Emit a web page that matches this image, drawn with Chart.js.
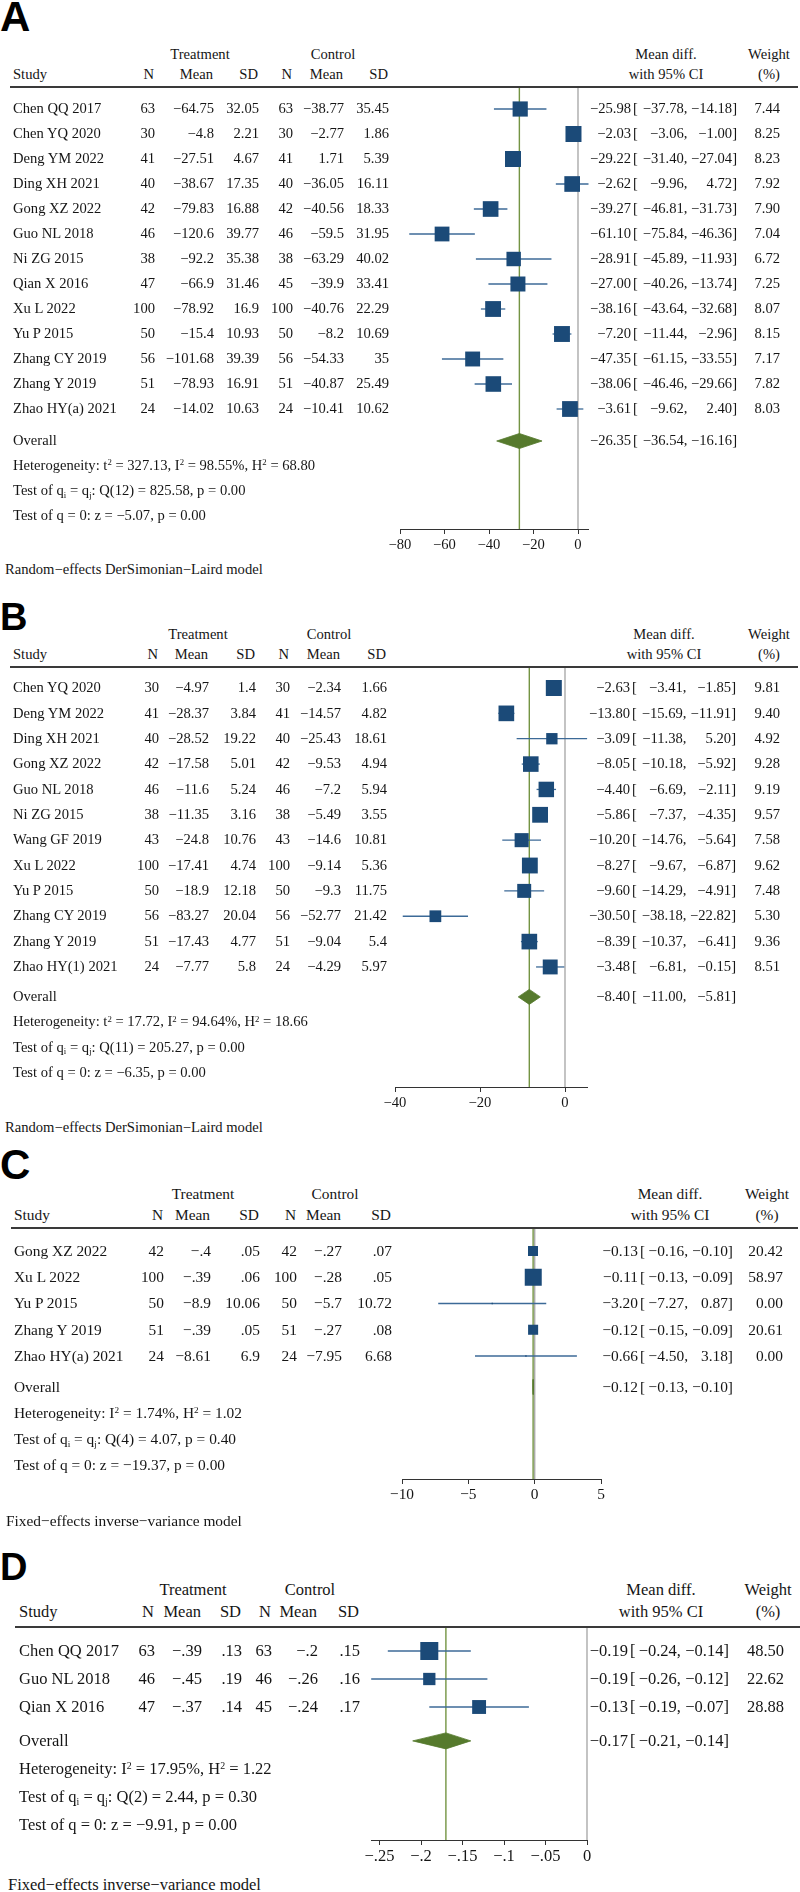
<!DOCTYPE html>
<html><head><meta charset="utf-8">
<script src="https://cdn.jsdelivr.net/npm/chart.js@4.4.1/dist/chart.umd.min.js"></script>
<style>
html,body{margin:0;padding:0;background:#fff;}
#root{position:relative;width:800px;height:1892px;overflow:hidden;background:#fff;}
.t{position:absolute;white-space:nowrap;font-family:'Liberation Serif','Times New Roman',serif;color:#151515;z-index:2;}
.t sup,.t sub{font-size:0.6em;position:relative;vertical-align:baseline;line-height:0;}
.t sup{top:-0.55em;} .t sub{top:0.3em;}
.lbl{position:absolute;left:0;font-family:'Liberation Sans',Arial,sans-serif;font-weight:bold;color:#000;z-index:2;}
.hl{position:absolute;height:2px;background:#3a3a3a;z-index:2;}
canvas{position:absolute;left:0;z-index:1;}
</style></head><body><div id="root"></div>
<script>
const MINUS = '\u2212';
// ---------------- Panel A ----------------
const studiesA = ['Chen QQ 2017','Chen YQ 2020','Deng YM 2022','Ding XH 2021','Gong XZ 2022','Guo NL 2018','Ni ZG 2015','Qian X 2016','Xu L 2022','Yu P 2015','Zhang CY 2019','Zhang Y 2019','Zhao HY(a) 2021'];
const nTA = [63,30,41,40,42,46,38,47,100,50,56,51,24];
const meanTA = [-64.75,-4.8,-27.51,-38.67,-79.83,-120.6,-92.2,-66.9,-78.92,-15.4,-101.68,-78.93,-14.02];
const sdTA = [32.05,2.21,4.67,17.35,16.88,39.77,35.38,31.46,16.9,10.93,39.39,16.91,10.63];
const nCA = [63,30,41,40,42,46,38,45,100,50,56,51,24];
const meanCA = [-38.77,-2.77,1.71,-36.05,-40.56,-59.5,-63.29,-39.9,-40.76,-8.2,-54.33,-40.87,-10.41];
const sdCA = [35.45,1.86,5.39,16.11,18.33,31.95,40.02,33.41,22.29,10.69,35,25.49,10.62];
const estA = [-25.98,-2.03,-29.22,-2.62,-39.27,-61.10,-28.91,-27.00,-38.16,-7.20,-47.35,-38.06,-3.61];
const loA = [-37.78,-3.06,-31.40,-9.96,-46.81,-75.84,-45.89,-40.26,-43.64,-11.44,-61.15,-46.46,-9.62];
const hiA = [-14.18,-1.00,-27.04,4.72,-31.73,-46.36,-11.93,-13.74,-32.68,-2.96,-33.55,-29.66,2.40];
const wA = [7.44,8.25,8.23,7.92,7.90,7.04,6.72,7.25,8.07,8.15,7.17,7.82,8.03];
const overallA = [-26.35,-36.54,-16.16];
const statsA = ['Heterogeneity: t<sup>2</sup> = 327.13, I<sup>2</sup> = 98.55%, H<sup>2</sup> = 68.80','Test of q<sub>i</sub> = q<sub>j</sub>: Q(12) = 825.58, p = 0.00','Test of q = 0: z = \u22125.07, p = 0.00'];
const modelA = 'Random\u2212effects DerSimonian\u2212Laird model';
const ticksA = [-80,-60,-40,-20,0];
const tickLabelsA = ['\u221280','\u221260','\u221240','\u221220','0'];

// ---------------- Panel B ----------------
const studiesB = ['Chen YQ 2020','Deng YM 2022','Ding XH 2021','Gong XZ 2022','Guo NL 2018','Ni ZG 2015','Wang GF 2019','Xu L 2022','Yu P 2015','Zhang CY 2019','Zhang Y 2019','Zhao HY(1) 2021'];
const nTB = [30,41,40,42,46,38,43,100,50,56,51,24];
const meanTB = [-4.97,-28.37,-28.52,-17.58,-11.6,-11.35,-24.8,-17.41,-18.9,-83.27,-17.43,-7.77];
const sdTB = [1.4,3.84,19.22,5.01,5.24,3.16,10.76,4.74,12.18,20.04,4.77,5.8];
const nCB = [30,41,40,42,46,38,43,100,50,56,51,24];
const meanCB = [-2.34,-14.57,-25.43,-9.53,-7.2,-5.49,-14.6,-9.14,-9.3,-52.77,-9.04,-4.29];
const sdCB = [1.66,4.82,18.61,4.94,5.94,3.55,10.81,5.36,11.75,21.42,5.4,5.97];
const estB = [-2.63,-13.80,-3.09,-8.05,-4.40,-5.86,-10.20,-8.27,-9.60,-30.50,-8.39,-3.48];
const loB = [-3.41,-15.69,-11.38,-10.18,-6.69,-7.37,-14.76,-9.67,-14.29,-38.18,-10.37,-6.81];
const hiB = [-1.85,-11.91,5.20,-5.92,-2.11,-4.35,-5.64,-6.87,-4.91,-22.82,-6.41,-0.15];
const wB = [9.81,9.40,4.92,9.28,9.19,9.57,7.58,9.62,7.48,5.30,9.36,8.51];
const overallB = [-8.40,-11.00,-5.81];
const statsB = ['Heterogeneity: t<sup>2</sup> = 17.72, I<sup>2</sup> = 94.64%, H<sup>2</sup> = 18.66','Test of q<sub>i</sub> = q<sub>j</sub>: Q(11) = 205.27, p = 0.00','Test of q = 0: z = \u22126.35, p = 0.00'];
const modelB = 'Random\u2212effects DerSimonian\u2212Laird model';
const ticksB = [-40,-20,0];
const tickLabelsB = ['\u221240','\u221220','0'];

// ---------------- Panel C ----------------
const studiesC = ['Gong XZ 2022','Xu L 2022','Yu P 2015','Zhang Y 2019','Zhao HY(a) 2021'];
const nTC = [42,100,50,51,24];
const meanTC = [-0.4,-0.39,-8.9,-0.39,-8.61];
const sdTC = [0.05,0.06,10.06,0.05,6.9];
const nCC = [42,100,50,51,24];
const meanCC = [-0.27,-0.28,-5.7,-0.27,-7.95];
const sdCC = [0.07,0.05,10.72,0.08,6.68];
const estC = [-0.13,-0.11,-3.20,-0.12,-0.66];
const loC = [-0.16,-0.13,-7.27,-0.15,-4.50];
const hiC = [-0.10,-0.09,0.87,-0.09,3.18];
const wC = [20.42,58.97,0.00,20.61,0.00];
const overallC = [-0.12,-0.13,-0.10];
const statsC = ['Heterogeneity: I<sup>2</sup> = 1.74%, H<sup>2</sup> = 1.02','Test of q<sub>i</sub> = q<sub>j</sub>: Q(4) = 4.07, p = 0.40','Test of q = 0: z = \u221219.37, p = 0.00'];
const modelC = 'Fixed\u2212effects inverse\u2212variance model';
const ticksC = [-10,-5,0,5];
const tickLabelsC = ['\u221210','\u22125','0','5'];

// ---------------- Panel D ----------------
const studiesD = ['Chen QQ 2017','Guo NL 2018','Qian X 2016'];
const nTD = [63,46,47];
const meanTD = [-0.39,-0.45,-0.37];
const sdTD = [0.13,0.19,0.14];
const nCD = [63,46,45];
const meanCD = [-0.2,-0.26,-0.24];
const sdCD = [0.15,0.16,0.17];
const estD = [-0.19,-0.19,-0.13];
const loD = [-0.24,-0.26,-0.19];
const hiD = [-0.14,-0.12,-0.07];
const wD = [48.50,22.62,28.88];
const overallD = [-0.17,-0.21,-0.14];
const statsD = ['Heterogeneity: I<sup>2</sup> = 17.95%, H<sup>2</sup> = 1.22','Test of q<sub>i</sub> = q<sub>j</sub>: Q(2) = 2.44, p = 0.30','Test of q = 0: z = \u22129.91, p = 0.00'];
const modelD = 'Fixed\u2212effects inverse\u2212variance model';
const ticksD = [-0.25,-0.2,-0.15,-0.1,-0.05,0];
const tickLabelsD = ['\u2212.25','\u2212.2','\u2212.15','\u2212.1','\u2212.05','0'];

const panelLetters = ['A','B','C','D'];

// ---------------- layout / style (not data) ----------------
const panels = [
  {studies:studiesA,nT:nTA,meanT:meanTA,sdT:sdTA,nC:nCA,meanC:meanCA,sdC:sdCA,est:estA,lo:loA,hi:hiA,w:wA,ov:overallA,stats:statsA,model:modelA,ticks:ticksA,tickLabels:tickLabelsA,
   L:{labelY:17,labelSize:42,fs:14.6,hdr1Y:55,hdr2Y:75,headerY:87,lineL:10,lineR:798,firstOff:22,rowH:25,gap:1.28,axisY:529,footY:570,footX:5,
      studyX:13,cols:[155,214,259,293,344,389],treatC:200,ctrlC:333,estR:631,brkL:633,loR:687.5,hiR:737,wR:780,mdC:666,wC:769,
      x0px:578,ppu:2.225,xMin:-80,xMax:4.72,maxSq:16,diaH:15}},
  {studies:studiesB,nT:nTB,meanT:meanTB,sdT:sdTB,nC:nCB,meanC:meanCB,sdC:sdCB,est:estB,lo:loB,hi:hiB,w:wB,ov:overallB,stats:statsB,model:modelB,ticks:ticksB,tickLabels:tickLabelsB,
   L:{labelY:617,labelSize:38,fs:14.6,hdr1Y:635,hdr2Y:655,headerY:667,lineL:10,lineR:798,firstOff:21,rowH:25.36,gap:1.18,axisY:1087,footY:1128,footX:5,
      studyX:13,cols:[159,209,256,290,341,387],treatC:198,ctrlC:329,estR:630,brkL:632,loR:686.5,hiR:736,wR:780,mdC:664,wC:769,
      x0px:565,ppu:4.25,xMin:-40,xMax:5.2,maxSq:16,diaH:15}},
  {studies:studiesC,nT:nTC,meanT:meanTC,sdT:sdTC,nC:nCC,meanC:meanCC,sdC:sdCC,est:estC,lo:loC,hi:hiC,w:wC,ov:overallC,stats:statsC,model:modelC,ticks:ticksC,tickLabels:tickLabelsC,
   L:{labelY:1165,labelSize:42,fs:15.4,hdr1Y:1194,hdr2Y:1215,headerY:1228,lineL:11,lineR:798,firstOff:23,rowH:26.25,gap:1.18,axisY:1479,footY:1521,footX:6,
      studyX:14,cols:[164,211,260,297,342,392],treatC:203,ctrlC:335,estR:638,brkL:640,loR:688,hiR:733,wR:783,mdC:670,wC:767,
      x0px:534.7,ppu:13.27,xMin:-10,xMax:5,maxSq:17,diaH:15}},
  {studies:studiesD,nT:nTD,meanT:meanTD,sdT:sdTD,nC:nCD,meanC:meanCD,sdC:sdCD,est:estD,lo:loD,hi:hiD,w:wD,ov:overallD,stats:statsD,model:modelD,ticks:ticksD,tickLabels:tickLabelsD,
   L:{labelY:1567,labelSize:38,fs:16.5,hdr1Y:1590,hdr2Y:1612,headerY:1627,lineL:15,lineR:800,firstOff:24,rowH:28,gap:1.21,axisY:1840,footY:1885,footX:8,
      studyX:19,cols:[155,202,242,272,318,360],treatC:193,ctrlC:310,estR:628,brkL:630,loR:681,hiR:729,wR:784,mdC:661,wC:768,
      x0px:587,ppu:830,xMin:-0.26,xMax:0,maxSq:18,diaH:16}}
];

const BLUE = '#1b4a78', CIBLUE = '#3c6a97', GREEN = '#749443', GRAY = '#ababab', DIAMOND = '#567a2d';
const root = document.getElementById('root');

function fmtRaw(v){ let s = String(Math.abs(v)); if (s.startsWith('0.')) s = s.slice(1); return (v<0?MINUS:'') + s; }
function fmt2(v){ return (v<0?MINUS:'') + Math.abs(v).toFixed(2); }

function txt(html, x, y, align, fs){
  const d = document.createElement('div');
  d.className = 't';
  d.style.fontSize = fs + 'px';
  d.style.lineHeight = (fs*1.2) + 'px';
  d.style.top = (y - fs*0.6) + 'px';
  if (align === 'l') d.style.left = x + 'px';
  else if (align === 'r') d.style.right = (800 - x) + 'px';
  else { d.style.left = x + 'px'; d.style.transform = 'translateX(-50%)'; }
  d.innerHTML = html;
  root.appendChild(d);
}

function ciText(L, y, est, lo, hi, fs){
  txt(fmt2(est), L.estR, y, 'r', fs);
  txt('[', L.brkL, y, 'l', fs);
  txt(fmt2(lo) + ',', L.loR, y, 'r', fs);
  txt(fmt2(hi) + ']', L.hiR, y, 'r', fs);
}

panels.forEach((p, pi) => {
  const L = p.L;
  const n = p.studies.length;
  const ovRow = n - 1 + L.gap;
  const yMin = -L.firstOff / L.rowH;
  const yMax = yMin + (L.axisY - L.headerY) / L.rowH;
  const wMax = Math.max(...p.w);
  const pxMin = L.x0px + L.xMin * L.ppu;
  const pxMax = L.x0px + L.xMax * L.ppu;
  const dh = (L.diaH / 2) / L.rowH;

  const canvas = document.createElement('canvas');
  canvas.width = 800; canvas.height = L.axisY - L.headerY + 32;
  canvas.style.width = '800px'; canvas.style.height = canvas.height + 'px';
  canvas.style.top = L.headerY + 'px';
  root.appendChild(canvas);

  const datasets = [];
  datasets.push({type:'scatter', data: p.est.map((e,i)=>({x:e,y:i})), pointStyle:'rect',
    pointRadius: p.w.map(w => Math.max(0.9, L.maxSq*Math.sqrt(w/wMax)/Math.SQRT2)),
    pointBackgroundColor: BLUE, backgroundColor: BLUE, pointBorderWidth: 0, borderWidth: 0, clip:false});
  datasets.push({type:'line', data:[{x:p.ov[1],y:ovRow},{x:p.ov[0],y:ovRow-dh},{x:p.ov[2],y:ovRow},{x:p.ov[0],y:ovRow+dh},{x:p.ov[1],y:ovRow}],
    fill:'shape', backgroundColor: DIAMOND, borderColor: DIAMOND, borderWidth: 0.8, pointRadius:0, tension:0, clip:false});
  p.est.forEach((e,i) => {
    datasets.push({type:'line', data:[{x:p.lo[i],y:i},{x:p.hi[i],y:i}], borderColor: CIBLUE, borderWidth: 1.3, pointRadius:0, fill:false, clip:false});
  });
  datasets.push({type:'line', data:[{x:p.ov[0],y:yMin},{x:p.ov[0],y:yMax}], borderColor: GREEN, borderWidth: 1.4, pointRadius:0, fill:false, clip:false});
  datasets.push({type:'line', data:[{x:0,y:yMin},{x:0,y:yMax}], borderColor: GRAY, borderWidth: 1.4, pointRadius:0, fill:false, clip:false});

  const chart = new Chart(canvas, {
    type:'scatter',
    data:{datasets},
    options:{
      responsive:false, animation:false, events:[],
      layout:{padding:{left:pxMin, right:800-pxMax, top:0, bottom:0}, autoPadding:false},
      plugins:{legend:{display:false}, tooltip:{enabled:false}},
      scales:{
        x:{type:'linear', position:'bottom', min:L.xMin, max:L.xMax,
           afterBuildTicks: s => { s.ticks = p.ticks.map(v => ({value:v})); },
           afterFit: s => { s.height = 32; },
           ticks:{callback:(v,i) => p.tickLabels[i], autoSkip:false, maxRotation:0, padding:2,
                  font:{family:"'Liberation Serif','Times New Roman',serif", size:L.fs}, color:'#151515'},
           grid:{display:true, drawOnChartArea:false, drawTicks:true, tickLength:5, color:'#333', lineWidth:1},
           border:{display:true, color:'#333', width:1}},
        y:{type:'linear', display:false, min:yMin, max:yMax, reverse:true}
      }
    }
  });

  const ys = chart.scales.y;
  const rowY = r => L.headerY + ys.getPixelForValue(r);
  const fs = L.fs;

  const lb = document.createElement('div');
  lb.className = 'lbl';
  lb.style.fontSize = L.labelSize + 'px';
  lb.style.lineHeight = L.labelSize + 'px';
  lb.style.top = (L.labelY - L.labelSize*0.5) + 'px';
  lb.textContent = panelLetters[pi];
  root.appendChild(lb);

  txt('Treatment', L.treatC, L.hdr1Y, 'c', fs);
  txt('Control', L.ctrlC, L.hdr1Y, 'c', fs);
  txt('Mean diff.', L.mdC, L.hdr1Y, 'c', fs);
  txt('Weight', L.wC, L.hdr1Y, 'c', fs);
  txt('Study', L.studyX, L.hdr2Y, 'l', fs);
  ['N','Mean','SD','N','Mean','SD'].forEach((h,k) => txt(h, L.cols[k]-1, L.hdr2Y, 'r', fs));
  txt('with 95% CI', L.mdC, L.hdr2Y, 'c', fs);
  txt('(%)', L.wC, L.hdr2Y, 'c', fs);
  const hl = document.createElement('div');
  hl.className = 'hl';
  hl.style.left = L.lineL + 'px'; hl.style.width = (L.lineR - L.lineL) + 'px';
  hl.style.top = (L.headerY - 1) + 'px';
  root.appendChild(hl);

  p.studies.forEach((s,i) => {
    const y = rowY(i);
    txt(s, L.studyX, y, 'l', fs);
    const vals = [String(p.nT[i]), fmtRaw(p.meanT[i]), fmtRaw(p.sdT[i]), String(p.nC[i]), fmtRaw(p.meanC[i]), fmtRaw(p.sdC[i])];
    vals.forEach((v,k) => txt(v, L.cols[k], y, 'r', fs));
    ciText(L, y, p.est[i], p.lo[i], p.hi[i], fs);
    txt(p.w[i].toFixed(2), L.wR, y, 'r', fs);
  });
  txt('Overall', L.studyX, rowY(ovRow), 'l', fs);
  ciText(L, rowY(ovRow), p.ov[0], p.ov[1], p.ov[2], fs);
  p.stats.forEach((s,k) => txt(s, L.studyX, rowY(ovRow + 1 + k), 'l', fs));
  txt(p.model, L.footX, L.footY, 'l', fs);
});
</script></body></html>
